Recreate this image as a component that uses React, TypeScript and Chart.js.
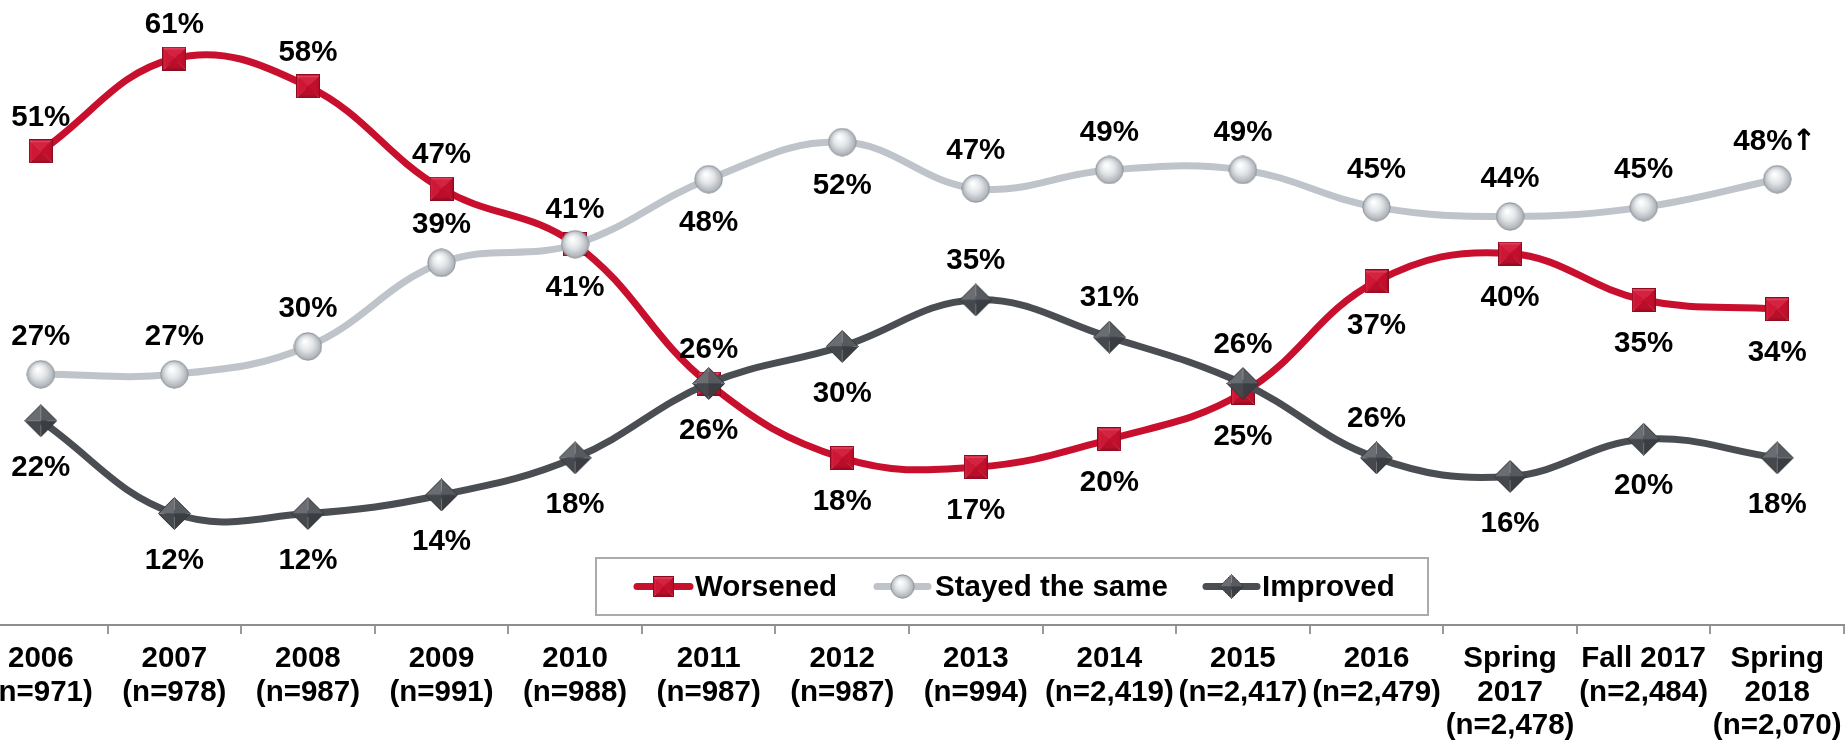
import React, { useEffect, useRef } from 'react';
import { Chart, registerables } from 'chart.js';

Chart.register(...registerables);

const categories: string[][] = [
  ['2006', '(n=971)'],
  ['2007', '(n=978)'],
  ['2008', '(n=987)'],
  ['2009', '(n=991)'],
  ['2010', '(n=988)'],
  ['2011', '(n=987)'],
  ['2012', '(n=987)'],
  ['2013', '(n=994)'],
  ['2014', '(n=2,419)'],
  ['2015', '(n=2,417)'],
  ['2016', '(n=2,479)'],
  ['Spring', '2017', '(n=2,478)'],
  ['Fall 2017', '(n=2,484)'],
  ['Spring', '2018', '(n=2,070)'],
];

const worsened = [51, 61, 58, 47, 41, 26, 18, 17, 20, 25, 37, 40, 35, 34];
const stayedSame = [27, 27, 30, 39, 41, 48, 52, 47, 49, 49, 45, 44, 45, 48];
const improved = [22, 12, 12, 14, 18, 26, 30, 35, 31, 26, 18, 16, 20, 18];

const worsenedLabels = ['51%', '61%', '58%', '47%', '41%', '26%', '18%', '17%', '20%', '25%', '37%', '40%', '35%', '34%'];
const stayedLabels = ['27%', '27%', '30%', '39%', '41%', '48%', '52%', '47%', '49%', '49%', '45%', '44%', '45%', '48%'];
const improvedLabels = ['22%', '12%', '12%', '14%', '18%', '26%', '30%', '35%', '31%', '26%', '26%', '16%', '20%', '18%'];
// trend arrow shown after a label: [series index, point index, glyph]
const trendArrows: [number, number, string][] = [[1, 13, '\u2191']];

// a = above the point, b = below
const worsenedPos = ['a', 'a', 'a', 'a', 'a', 'a', 'b', 'b', 'b', 'b', 'b', 'b', 'b', 'b'];
const stayedPos = ['a', 'a', 'a', 'a', 'b', 'b', 'b', 'a', 'a', 'a', 'a', 'a', 'a', 'a'];
const improvedPos = ['b', 'b', 'b', 'b', 'b', 'b', 'b', 'a', 'a', 'a', 'a', 'b', 'b', 'b'];

const seriesNames = ['Worsened', 'Stayed the same', 'Improved'];
const RED = '#C8102E';
const LIGHT = '#BEC4C9';
const DARK = '#4A4D52';

const FONT = '"Liberation Sans", Arial, Helvetica, sans-serif';
const FSIZE = 29.5;
const SHIFT = 26; // canvas starts 26px left of the page edge

function makeSquare(): HTMLCanvasElement {
  const s = 24;
  const c = document.createElement('canvas');
  c.width = s; c.height = s;
  const g = c.getContext('2d')!;
  const m = s / 2;
  const tri = (pts: number[][], col: string) => {
    g.beginPath();
    g.moveTo(pts[0][0], pts[0][1]);
    for (let i = 1; i < pts.length; i++) g.lineTo(pts[i][0], pts[i][1]);
    g.closePath();
    g.fillStyle = col;
    g.fill();
  };
  tri([[0, 0], [s, 0], [m, m]], '#E23A57');
  tri([[0, 0], [0, s], [m, m]], '#D21F3D');
  tri([[s, 0], [s, s], [m, m]], '#B80F2B');
  tri([[0, s], [s, s], [m, m]], '#A50C26');
  g.fillStyle = 'rgba(200,16,46,0.55)';
  g.fillRect(3, 3, s - 6, s - 6);
  g.strokeStyle = '#8E0A21';
  g.lineWidth = 1;
  g.strokeRect(0.5, 0.5, s - 1, s - 1);
  return c;
}

function makeSphere(): HTMLCanvasElement {
  const s = 29;
  const c = document.createElement('canvas');
  c.width = s; c.height = s;
  const g = c.getContext('2d')!;
  const r = s / 2;
  const grad = g.createRadialGradient(r * 0.8, r * 0.65, 1, r, r, r);
  grad.addColorStop(0, '#FFFFFF');
  grad.addColorStop(0.45, '#E2E5E8');
  grad.addColorStop(0.85, '#B4B9BE');
  grad.addColorStop(1, '#9CA2A7');
  g.beginPath();
  g.arc(r, r, r - 0.8, 0, Math.PI * 2);
  g.fillStyle = grad;
  g.fill();
  g.strokeStyle = '#8E959B';
  g.lineWidth = 1;
  g.stroke();
  return c;
}

function makeDiamond(): HTMLCanvasElement {
  const s = 33;
  const c = document.createElement('canvas');
  c.width = s; c.height = s;
  const g = c.getContext('2d')!;
  const m = s / 2;
  const top = [m, 0.5], right = [s - 0.5, m], bottom = [m, s - 0.5], left = [0.5, m];
  const face = (a: number[], b: number[], col: string) => {
    g.beginPath();
    g.moveTo(a[0], a[1]);
    g.lineTo(b[0], b[1]);
    g.lineTo(m, m);
    g.closePath();
    g.fillStyle = col;
    g.fill();
  };
  face(left, top, '#6A6E73');
  face(top, right, '#575B60');
  face(right, bottom, '#3A3D41');
  face(bottom, left, '#45484C');
  g.beginPath();
  g.moveTo(top[0], top[1]);
  g.lineTo(right[0], right[1]);
  g.lineTo(bottom[0], bottom[1]);
  g.lineTo(left[0], left[1]);
  g.closePath();
  g.strokeStyle = '#34373A';
  g.lineWidth = 1;
  g.stroke();
  return c;
}

export default function App() {
  const ref = useRef<HTMLCanvasElement | null>(null);

  useEffect(() => {
    if (!ref.current) return;
    const sq = makeSquare();
    const sp = makeSphere();
    const dm = makeDiamond();
    const markers = [sq, sp, dm];
    const colors = [RED, LIGHT, DARK];
    const labelTexts = [worsenedLabels, stayedLabels, improvedLabels];
    const labelPos = [worsenedPos, stayedPos, improvedPos];
    const offAbove = [34, 37.5, 39];
    const offBelow = [44, 44, 47];

    const labelPlugin = {
      id: 'pointLabels',
      afterDatasetsDraw(chart: any) {
        const ctx = chart.ctx;
        ctx.save();
        ctx.fillStyle = '#000';
        ctx.textBaseline = 'middle';
        for (let i = 0; i < 3; i++) {
          const meta = chart.getDatasetMeta(i);
          meta.data.forEach((pt: any, j: number) => {
            const pos = labelPos[i][j];
            const dy = pos === 'a' ? -offAbove[i] : offBelow[i];
            const txt = labelTexts[i][j];
            const arrow = trendArrows.find((t) => t[0] === i && t[1] === j);
            ctx.font = `bold ${FSIZE}px ${FONT}`;
            if (!arrow) {
              ctx.textAlign = 'center';
              ctx.fillText(txt, pt.x, pt.y + dy);
            } else {
              const tw = ctx.measureText(txt).width;
              ctx.font = `bold ${FSIZE}px "DejaVu Sans", sans-serif`;
              const aw = ctx.measureText(arrow[2]).width;
              const x0 = pt.x - (tw + aw) / 2 - 2;
              ctx.textAlign = 'left';
              ctx.font = `bold ${FSIZE}px ${FONT}`;
              ctx.fillText(txt, x0, pt.y + dy);
              ctx.font = `bold ${FSIZE}px "DejaVu Sans", sans-serif`;
              ctx.fillText(arrow[2], x0 + tw - 1, pt.y + dy + 1);
            }
          });
        }
        ctx.restore();
      },
    };

    const legendPlugin = {
      id: 'customLegend',
      afterDraw(chart: any) {
        const ctx = chart.ctx;
        ctx.save();
        const bx = 596 + SHIFT, by = 558, bw = 832, bh = 57;
        ctx.fillStyle = '#fff';
        ctx.fillRect(bx, by, bw, bh);
        ctx.strokeStyle = '#ABABAB';
        ctx.lineWidth = 2;
        ctx.strokeRect(bx, by, bw, bh);
        const cy = by + bh / 2;
        const items = [
          { x0: 634, x1: 693, tx: 695 },
          { x0: 874, x1: 931, tx: 935 },
          { x0: 1203, x1: 1260, tx: 1262 },
        ];
        items.forEach((it, i) => {
          ctx.beginPath();
          ctx.moveTo(it.x0 + SHIFT + 3, cy);
          ctx.lineTo(it.x1 + SHIFT - 3, cy);
          ctx.strokeStyle = colors[i];
          ctx.lineWidth = 7;
          ctx.lineCap = 'round';
          ctx.stroke();
          const mk = markers[i];
          const scale = i === 2 ? 0.75 : 0.85;
          const w = mk.width * scale, h = mk.height * scale;
          const mx = (it.x0 + it.x1) / 2 + SHIFT;
          ctx.drawImage(mk, mx - w / 2, cy - h / 2, w, h);
          ctx.fillStyle = '#000';
          ctx.font = `bold ${FSIZE}px ${FONT}`;
          ctx.textAlign = 'left';
          ctx.textBaseline = 'middle';
          ctx.fillText(seriesNames[i], it.tx + SHIFT, cy + 1);
        });
        ctx.restore();
      },
    };

    const seriesData = [worsened, stayedSame, improved];
    const chart = new Chart(ref.current, {
      type: 'line',
      data: {
        labels: categories,
        datasets: seriesData.map((d, i) => ({
          label: seriesNames[i],
          data: d,
          borderColor: colors[i],
          backgroundColor: colors[i],
          borderWidth: 7,
          tension: 0.4,
          pointStyle: markers[i] as any,
          pointRadius: 14,
          pointHoverRadius: 14,
          order: 3 - i,
          clip: false as any,
        })),
      },
      options: {
        responsive: false,
        animation: false,
        events: [],
        layout: { autoPadding: false, padding: { left: 0, right: 30, top: 0, bottom: 0 } },
        plugins: {
          legend: { display: false },
          tooltip: { enabled: false },
        },
        scales: {
          x: {
            type: 'category',
            offset: true,
            afterFit: (s: any) => {
              s.height = 120;
              s.paddingLeft = 0;
              s.paddingRight = 0;
            },
            grid: {
              offset: true,
              drawOnChartArea: false,
              drawTicks: true,
              tickLength: 9,
              color: '#9A9A9A',
              lineWidth: 2,
            },
            border: { display: true, color: '#8E8E8E', width: 2 },
            ticks: {
              autoSkip: false,
              maxRotation: 0,
              minRotation: 0,
              padding: 8,
              color: '#000',
              font: { family: FONT, size: FSIZE, weight: 'bold', lineHeight: 1.14 },
            },
          },
          y: {
            display: false,
            bounds: 'data',
            min: 0,
            max: 67.3,
            afterDataLimits: (s: any) => {
              s.min = 0;
              s.max = 67.3;
            },
          },
        },
      },
      plugins: [labelPlugin, legendPlugin],
    });
    return () => chart.destroy();
  }, []);

  return (
    <div style={{ position: 'fixed', left: -SHIFT, top: 0, width: 1900, height: 745, background: '#fff' }}>
      <canvas ref={ref} width={1900} height={745} style={{ display: 'block' }} />
    </div>
  );
}
